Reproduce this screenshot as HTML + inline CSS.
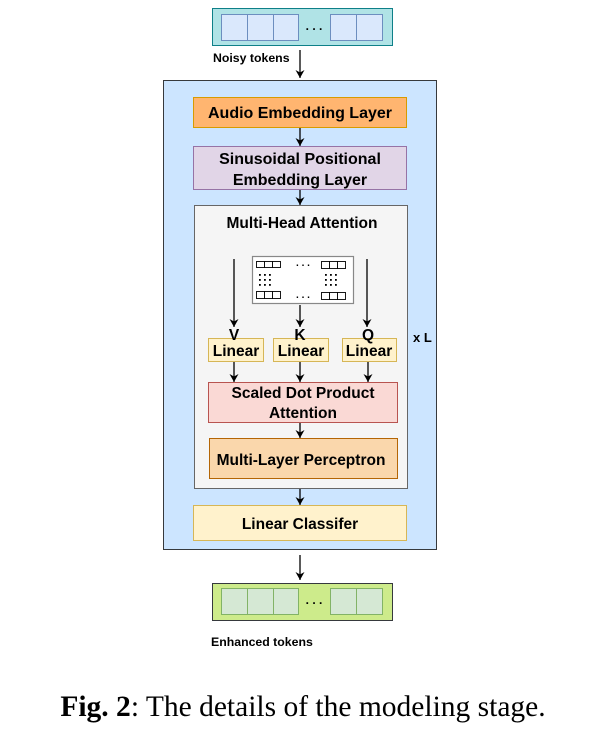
<!DOCTYPE html>
<html><head><meta charset="utf-8"><style>
body{margin:0;background:#fff;width:590px;height:743px;overflow:hidden}
svg text{font-family:"Liberation Sans",sans-serif;font-weight:bold;fill:#000}
</style></head><body>
<svg width="590" height="743" viewBox="0 0 590 743" xmlns="http://www.w3.org/2000/svg">
<defs><marker id="a" markerWidth="9" markerHeight="9" refX="8" refY="4.5" orient="auto" markerUnits="userSpaceOnUse"><path d="M0,0 L8,4.5 L0,9 L2.5,4.5 Z" fill="#000"/></marker></defs>
<rect x="212.5" y="8.5" width="180" height="37" fill="#b0e3e6" stroke="#0e8088"/>
<g fill="#dae8fc" stroke="#6c8ebf">
<rect x="221.5" y="14.5" width="26" height="26"/><rect x="247.5" y="14.5" width="26" height="26"/><rect x="273.5" y="14.5" width="25" height="26"/>
<rect x="330.5" y="14.5" width="26" height="26"/><rect x="356.5" y="14.5" width="26" height="26"/></g>
<text x="314" y="30" font-size="12" text-anchor="middle">. . .</text>
<text x="213" y="62" font-size="12.3">Noisy tokens</text>
<line x1="300" y1="50" x2="300" y2="78" stroke="#000" stroke-width="1.3" marker-end="url(#a)"/>
<rect x="163.5" y="80.5" width="273" height="469" fill="#cce5ff" stroke="#36393d"/>
<rect x="193.5" y="97.5" width="213" height="30" fill="#ffb570" stroke="#d79b00"/>
<text x="300" y="118" font-size="16" text-anchor="middle">Audio Embedding Layer</text>
<line x1="300" y1="128" x2="300" y2="146" stroke="#000" stroke-width="1.3" marker-end="url(#a)"/>
<rect x="193.5" y="146.5" width="213" height="43" fill="#e1d5e7" stroke="#9673a6"/>
<text x="300" y="164" font-size="16" text-anchor="middle">Sinusoidal Positional</text>
<text x="300" y="185" font-size="16" text-anchor="middle">Embedding Layer</text>
<line x1="300" y1="190" x2="300" y2="205" stroke="#000" stroke-width="1.3" marker-end="url(#a)"/>
<rect x="194.5" y="205.5" width="213" height="283" fill="#f5f5f5" stroke="#666"/>
<text x="302" y="228" font-size="15.5" text-anchor="middle">Multi-Head Attention</text>
<rect x="252.5" y="256.5" width="101" height="47" fill="#fff" stroke="#888" stroke-width="1.2"/>
<g fill="#fff" stroke="#000" stroke-width="0.9">
<rect x="256.5" y="261.5" width="8" height="6"/><rect x="264.5" y="261.5" width="8" height="6"/><rect x="272.5" y="261.5" width="8" height="6"/>
<rect x="321.5" y="261.5" width="8" height="7"/><rect x="329.5" y="261.5" width="8" height="7"/><rect x="337.5" y="261.5" width="8" height="7"/>
<rect x="256.5" y="291.5" width="8" height="7"/><rect x="264.5" y="291.5" width="8" height="7"/><rect x="272.5" y="291.5" width="8" height="7"/>
<rect x="321.5" y="292.5" width="8" height="7"/><rect x="329.5" y="292.5" width="8" height="7"/><rect x="337.5" y="292.5" width="8" height="7"/></g>
<text x="303" y="266" font-size="10" text-anchor="middle">. . .</text>
<text x="303" y="298" font-size="10" text-anchor="middle">. . .</text>
<g fill="#000"><rect x="259" y="274" width="1.8" height="1.8"/><rect x="264" y="274" width="1.8" height="1.8"/><rect x="269" y="274" width="1.8" height="1.8"/>
<rect x="259" y="279" width="1.8" height="1.8"/><rect x="264" y="279" width="1.8" height="1.8"/><rect x="269" y="279" width="1.8" height="1.8"/>
<rect x="259" y="284" width="1.8" height="1.8"/><rect x="264" y="284" width="1.8" height="1.8"/><rect x="269" y="284" width="1.8" height="1.8"/>
<rect x="325" y="274" width="1.8" height="1.8"/><rect x="330" y="274" width="1.8" height="1.8"/><rect x="335" y="274" width="1.8" height="1.8"/>
<rect x="325" y="279" width="1.8" height="1.8"/><rect x="330" y="279" width="1.8" height="1.8"/><rect x="335" y="279" width="1.8" height="1.8"/>
<rect x="325" y="284" width="1.8" height="1.8"/><rect x="330" y="284" width="1.8" height="1.8"/><rect x="335" y="284" width="1.8" height="1.8"/></g>
<g stroke="#000" stroke-width="1.3">
<line x1="234" y1="259" x2="234" y2="327" marker-end="url(#a)"/>
<line x1="300" y1="305" x2="300" y2="327" marker-end="url(#a)"/>
<line x1="367" y1="259" x2="367" y2="327" marker-end="url(#a)"/></g>
<g fill="#fff2cc" stroke="#d6b656">
<rect x="208.5" y="338.5" width="55" height="23"/><rect x="273.5" y="338.5" width="55" height="23"/><rect x="342.5" y="338.5" width="54" height="23"/></g>
<text x="234" y="340" font-size="15.5" text-anchor="middle">V</text>
<text x="300" y="340" font-size="15.5" text-anchor="middle">K</text>
<text x="368" y="340" font-size="15.5" text-anchor="middle">Q</text>
<text x="236" y="356" font-size="15.5" text-anchor="middle">Linear</text>
<text x="301" y="356" font-size="15.5" text-anchor="middle">Linear</text>
<text x="369" y="356" font-size="15.5" text-anchor="middle">Linear</text>
<text x="413" y="342" font-size="13">x L</text>
<g stroke="#000" stroke-width="1.3">
<line x1="234" y1="362" x2="234" y2="382" marker-end="url(#a)"/>
<line x1="300" y1="362" x2="300" y2="382" marker-end="url(#a)"/>
<line x1="368" y1="362" x2="368" y2="382" marker-end="url(#a)"/></g>
<rect x="208.5" y="382.5" width="189" height="40" fill="#fad9d5" stroke="#b85450"/>
<text x="303" y="398" font-size="15.5" text-anchor="middle">Scaled Dot Product</text>
<text x="303" y="418" font-size="15.5" text-anchor="middle">Attention</text>
<line x1="300" y1="423" x2="300" y2="438" stroke="#000" stroke-width="1.3" marker-end="url(#a)"/>
<rect x="209.5" y="438.5" width="188" height="40" fill="#fad7ac" stroke="#b46504"/>
<text x="301" y="465" font-size="15.5" text-anchor="middle">Multi-Layer Perceptron</text>
<line x1="300" y1="489" x2="300" y2="505" stroke="#000" stroke-width="1.3" marker-end="url(#a)"/>
<rect x="193.5" y="505.5" width="213" height="35" fill="#fff2cc" stroke="#d6b656"/>
<text x="300" y="529" font-size="15.5" text-anchor="middle">Linear Classifer</text>
<line x1="300" y1="555" x2="300" y2="580" stroke="#000" stroke-width="1.3" marker-end="url(#a)"/>
<rect x="212.5" y="583.5" width="180" height="37" fill="#cdeb8b" stroke="#36393d"/>
<g fill="#d5e8d4" stroke="#82b366">
<rect x="221.5" y="588.5" width="26" height="26"/><rect x="247.5" y="588.5" width="26" height="26"/><rect x="273.5" y="588.5" width="25" height="26"/>
<rect x="330.5" y="588.5" width="26" height="26"/><rect x="356.5" y="588.5" width="26" height="26"/></g>
<text x="314" y="604" font-size="12" text-anchor="middle">. . .</text>
<text x="211" y="646" font-size="12.3">Enhanced tokens</text>
<text x="303" y="716" font-size="29.5" text-anchor="middle" style="font-family:'Liberation Serif',serif;font-weight:normal"><tspan font-weight="bold">Fig. 2</tspan>: The details of the modeling stage.</text>
</svg>
</body></html>
